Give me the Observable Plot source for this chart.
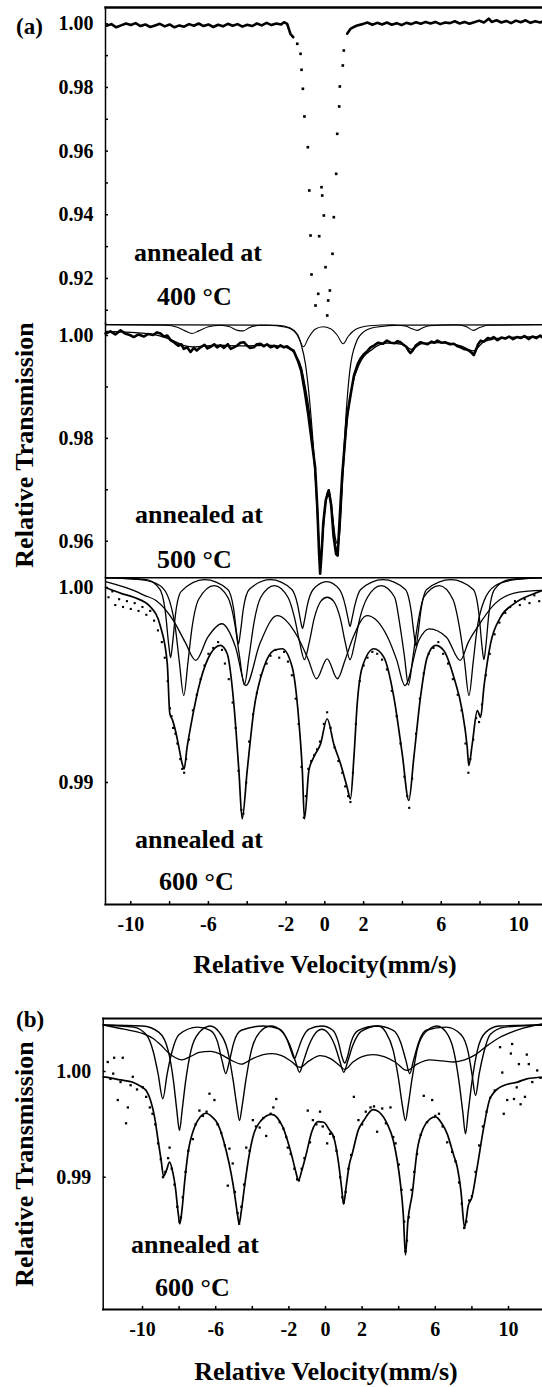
<!DOCTYPE html>
<html><head><meta charset="utf-8">
<script src="https://cdn.jsdelivr.net/npm/d3@7"></script>
<script src="https://cdn.jsdelivr.net/npm/@observablehq/plot@0.6"></script>
<style>
body{margin:0;background:#fff;}
#wrap{position:relative;width:542px;height:1387px;overflow:hidden;background:#fff;font-family:"Liberation Serif","Times New Roman",serif;font-weight:bold;color:#000;}
.lbl{position:absolute;white-space:nowrap;line-height:1;transform:translateY(-50%);}
.ctr{position:absolute;white-space:nowrap;line-height:1;transform:translate(-50%,-50%);}
.rot{position:absolute;white-space:nowrap;line-height:1;transform:translate(-50%,-50%) rotate(-90deg);}
</style></head><body><div id="wrap"></div>
<script>
// ---------- axis values ----------
const xTicks = [-10,-8,-6,-4,-2,0,2,4,6,8,10];
const xTickLabels = [-10,-6,-2,0,2,6,10];
const yTicks400 = [1.00,0.99,0.98,0.97,0.96,0.95,0.94,0.93,0.92,0.91];
const yLabels400 = [1.00,0.98,0.96,0.94,0.92];
const yTicks500 = [1.00,0.99,0.98,0.97,0.96];
const yLabels500 = [1.00,0.98,0.96];
const yTicks600 = [1.00,0.99];
const yTicksB = [1.00,0.99];

// ---------- (a) 400 C ----------
const a400Left = [[-11.25,0.9994],[-11.0,0.9999],[-10.75,0.9989],[-10.5,0.9995],[-10.25,1.0001],[-10.0,0.9996],[-9.75,1.0002],[-9.5,0.9993],[-9.25,0.9998],[-9.0,0.9990],[-8.75,0.9995],[-8.5,1.0000],[-8.25,0.9992],[-8.0,0.9998],[-7.75,0.9989],[-7.5,0.9995],[-7.25,0.9991],[-7.0,0.9999],[-6.75,0.9994],[-6.5,1.0001],[-6.25,0.9993],[-6.0,0.9998],[-5.75,0.9990],[-5.5,0.9997],[-5.25,0.9992],[-5.0,1.0000],[-4.75,0.9994],[-4.5,0.9999],[-4.25,0.9991],[-4.0,0.9997],[-3.75,0.9993],[-3.5,1.0001],[-3.25,0.9995],[-3.0,1.0003],[-2.75,0.9996],[-2.5,1.0001],[-2.25,0.9998],[-2.1,1.0005],[-1.94,1.0000],[-1.77,0.9968],[-1.63,0.9958]];
const a400Right = [[1.15,0.9969],[1.32,0.9984],[1.5,0.9990],[1.67,0.9995],[1.95,0.9999],[2.19,1.0004],[2.45,0.9997],[2.7,1.0003],[2.95,0.9998],[3.2,1.0004],[3.45,0.9997],[3.7,1.0002],[3.95,0.9996],[4.2,1.0003],[4.45,0.9999],[4.7,1.0005],[4.95,1.0000],[5.2,1.0006],[5.45,1.0001],[5.7,1.0006],[5.95,0.9999],[6.2,1.0004],[6.45,1.0002],[6.7,1.0008],[6.95,1.0001],[7.2,1.0006],[7.45,1.0000],[7.7,1.0005],[7.95,1.0010],[8.2,1.0004],[8.45,1.0016],[8.6,1.0006],[8.85,1.0011],[9.1,1.0004],[9.35,1.0009],[9.6,1.0002],[9.85,1.0010],[10.1,1.0005],[10.35,1.0011],[10.6,1.0003],[10.85,1.0008],[11.1,1.0004],[11.22,1.0007]];
const a400Dip = [[-1.42,0.99372],[-1.25,0.99057],[-1.20,0.98555],[-1.13,0.97958],[-1.05,0.97088],[-0.876,0.96123],[-0.80,0.94763],[-0.737,0.93349],[-0.686,0.92124],[-0.48,0.91150],[-0.34,0.91517],[-0.29,0.93327],[-0.17,0.94867],[-0.134,0.94606],[-0.05,0.93977],[0.036,0.92353],[0.124,0.90836],[0.175,0.91307],[0.26,0.91621],[0.397,0.92774],[0.464,0.93924],[0.586,0.95287],[0.64,0.96544],[0.742,0.97402],[0.773,0.98030],[0.928,0.98690],[0.98,0.99161]];

// ---------- (a) 500 C ----------
const a500Data = [[-11.3,1.0004],[-11.05,1.0008],[-10.8,1.0002],[-10.53,1.0010],[-10.3,1.0004],[-10.05,1.0001],[-9.85,0.9997],[-9.6,1.0002],[-9.33,0.9998],[-9.1,1.0003],[-8.85,1.0001],[-8.65,1.0006],[-8.47,1.0004],[-8.3,0.9998],[-8.12,1.0000],[-7.95,0.9991],[-7.78,0.9987],[-7.55,0.9980],[-7.4,0.9983],[-7.27,0.9974],[-7.1,0.9977],[-6.92,0.9968],[-6.75,0.9976],[-6.6,0.9971],[-6.41,0.9977],[-6.2,0.9982],[-6.05,0.9975],[-5.89,0.9978],[-5.7,0.9983],[-5.55,0.9977],[-5.38,0.9981],[-5.2,0.9976],[-5.0,0.9983],[-4.85,0.9974],[-4.69,0.9977],[-4.5,0.9981],[-4.35,0.9986],[-4.17,0.9987],[-4.0,0.9980],[-3.85,0.9976],[-3.66,0.9977],[-3.5,0.9983],[-3.31,0.9984],[-3.15,0.9979],[-2.98,0.9983],[-2.8,0.9977],[-2.6,0.9980],[-2.45,0.9976],[-2.28,0.9981],[-2.1,0.9977],[-1.95,0.9979],[-1.77,0.9974],[-1.6,0.9970],[-1.39,0.9951],[-1.22,0.9932],[-1.04,0.9893],[-0.86,0.9848],[-0.68,0.9796],[-0.5,0.9744],[-0.38,0.9660],[-0.3,0.9580],[-0.24,0.9537],[-0.16,0.9580],[-0.08,0.9635],[0.05,0.9680],[0.2,0.9699],[0.33,0.9670],[0.45,0.9610],[0.58,0.9575],[0.66,0.9572],[0.74,0.9625],[0.82,0.9680],[0.9,0.9730],[0.98,0.9767],[1.07,0.9810],[1.15,0.9844],[1.32,0.9883],[1.5,0.9922],[1.7,0.9945],[1.84,0.9955],[2.0,0.9963],[2.2,0.9970],[2.36,0.9977],[2.55,0.9981],[2.75,0.9986],[3.0,0.9984],[3.2,0.9990],[3.4,0.9986],[3.6,0.9985],[3.75,0.9989],[3.9,0.9987],[4.05,0.9982],[4.2,0.9978],[4.32,0.9970],[4.42,0.9966],[4.55,0.9972],[4.7,0.9981],[4.93,0.9987],[5.1,0.9985],[5.3,0.9983],[5.5,0.9988],[5.65,0.9986],[5.8,0.9990],[6.0,0.9986],[6.2,0.9987],[6.45,0.9983],[6.65,0.9984],[6.85,0.9979],[7.0,0.9977],[7.16,0.9974],[7.3,0.9973],[7.45,0.9970],[7.58,0.9966],[7.68,0.9962],[7.78,0.9971],[7.9,0.9983],[8.03,0.9990],[8.2,0.9988],[8.4,0.9995],[8.55,0.9993],[8.7,0.9997],[8.9,0.9991],[9.1,0.9996],[9.3,0.9994],[9.5,0.9998],[9.7,0.9993],[9.9,0.9997],[10.1,0.9995],[10.3,0.9999],[10.5,0.9993],[10.7,0.9998],[10.9,0.9995],[11.1,1.0000],[11.22,0.9996]];
const a500Fit = [[-11.3,1.0008],[-9,1.0003],[-8,0.9993],[-7.2,0.9980],[-6.8,0.9978],[-5.5,0.9981],[-4.3,0.9980],[-3,0.9981],[-2,0.9977],[-1.5,0.9962],[-1.2,0.9936],[-1.0,0.9898],[-0.8,0.9852],[-0.6,0.9778],[-0.45,0.9700],[-0.33,0.9610],[-0.24,0.9555],[-0.14,0.9592],[0.0,0.9660],[0.2,0.9695],[0.4,0.9642],[0.55,0.9592],[0.65,0.9580],[0.78,0.9622],[0.95,0.9740],[1.15,0.9835],[1.4,0.9900],[1.8,0.9946],[2.4,0.9972],[3.2,0.9985],[4.0,0.9983],[4.45,0.9973],[5.0,0.9984],[6.0,0.9986],[7.0,0.9980],[7.65,0.9970],[8.2,0.9988],[9,0.9995],[10,0.9997],[11.22,0.9998]];
const a500CompD = [[-11.3,1.0021],[-3,1.0020],[-2,1.0016],[-1.5,1.0005],[-1.2,0.9980],[-1.0,0.9945],[-0.8,0.9880],[-0.6,0.9790],[-0.45,0.9710],[-0.33,0.9620],[-0.24,0.9570],[-0.14,0.9600],[0.0,0.9665],[0.2,0.9700],[0.4,0.9650],[0.55,0.9605],[0.65,0.9595],[0.78,0.9640],[0.95,0.9755],[1.1,0.9850],[1.3,0.9935],[1.6,0.9985],[2.0,1.0007],[2.6,1.0016],[4,1.0020],[11.22,1.0021]];
const a500CompS = [[-11.3,1.0021],[-8.2,1.0020],[-7.6,1.0016],[-7.2,1.0009],[-6.85,1.0004],[-6.5,1.0009],[-6.0,1.0017],[-5.4,1.0020],[-4.9,1.0017],[-4.5,1.0010],[-4.2,1.0009],[-3.9,1.0015],[-3.3,1.0020],[-2.4,1.0020],[-1.8,1.0015],[-1.4,1.0002],[-1.1,0.9978],[-0.85,0.9995],[-0.5,1.0012],[-0.1,1.0017],[0.3,1.0013],[0.65,1.0000],[0.95,0.9984],[1.2,0.9998],[1.6,1.0012],[2.3,1.0019],[3.5,1.0021],[4.2,1.0018],[4.5,1.0013],[4.76,1.0010],[5.0,1.0014],[5.4,1.0019],[6.8,1.0021],[7.3,1.0017],[7.65,1.0010],[7.95,1.0015],[8.4,1.0020],[11.22,1.0021]];

// ---------- (a) 600 C ----------
const a600Data = [[-11.15,0.9995],[-10.95,0.9998],[-10.8,0.9991],[-10.6,0.9994],[-10.4,0.9990],[-10.2,0.9993],[-10.0,0.9989],[-9.8,0.9992],[-9.6,0.9988],[-9.4,0.9990],[-9.2,0.9986],[-9.0,0.9988],[-8.8,0.9983],[-8.6,0.9978],[-8.4,0.9972],[-8.25,0.9964],[-8.1,0.9952],[-7.98,0.9938],[-7.9,0.9934],[-7.82,0.9928],[-7.7,0.9925],[-7.6,0.9920],[-7.45,0.9912],[-7.35,0.9907],[-7.25,0.9905],[-7.15,0.9912],[-7.0,0.9922],[-6.8,0.9937],[-6.6,0.9945],[-6.4,0.9953],[-6.2,0.9960],[-6.0,0.9966],[-5.75,0.9969],[-5.5,0.9972],[-5.3,0.9968],[-5.15,0.9961],[-4.95,0.9953],[-4.75,0.9941],[-4.6,0.9928],[-4.45,0.9906],[-4.3,0.9886],[-4.2,0.9884],[-4.05,0.9900],[-3.9,0.9921],[-3.7,0.9935],[-3.5,0.9946],[-3.3,0.9955],[-3.0,0.9961],[-2.8,0.9965],[-2.55,0.9968],[-2.35,0.9964],[-2.1,0.9967],[-1.9,0.9962],[-1.7,0.9955],[-1.5,0.9943],[-1.35,0.9930],[-1.2,0.9908],[-1.08,0.9882],[-0.98,0.9893],[-0.85,0.9907],[-0.7,0.9911],[-0.55,0.9914],[-0.4,0.9917],[-0.25,0.9921],[-0.05,0.9930],[0.12,0.9936],[0.3,0.9928],[0.5,0.9918],[0.7,0.9911],[0.9,0.9905],[1.05,0.9898],[1.2,0.9893],[1.32,0.9890],[1.45,0.9905],[1.6,0.9930],[1.8,0.9952],[2.0,0.9960],[2.2,0.9964],[2.45,0.9967],[2.7,0.9966],[2.95,0.9963],[3.2,0.9958],[3.45,0.9947],[3.7,0.9934],[3.9,0.9920],[4.1,0.9903],[4.25,0.9893],[4.35,0.9887],[4.5,0.9902],[4.7,0.9925],[4.9,0.9943],[5.1,0.9956],[5.35,0.9966],[5.6,0.9969],[5.85,0.9972],[6.1,0.9966],[6.35,0.9961],[6.6,0.9953],[6.85,0.9945],[7.05,0.9937],[7.25,0.9920],[7.4,0.9905],[7.5,0.9912],[7.65,0.9922],[7.8,0.9933],[7.95,0.9931],[8.1,0.9940],[8.3,0.9955],[8.5,0.9966],[8.75,0.9976],[9.0,0.9982],[9.3,0.9987],[9.55,0.9990],[9.8,0.9993],[10.05,0.9991],[10.3,0.9994],[10.55,0.9992],[10.8,0.9996],[11.05,0.9993]];
const a600Fit = [[-11.3,1.0000],[-10.5,0.9997],[-9.85,0.9995],[-8.98,0.9990],[-8.47,0.9980],[-8.12,0.9961],[-7.99,0.99354],[-7.85,0.9932],[-7.70,0.99267],[-7.5,0.9917],[-7.35,0.99096],[-7.25,0.9907],[-7.1,0.9918],[-6.92,0.99284],[-6.41,0.99523],[-5.89,0.9966],[-5.38,0.99703],[-5.03,0.9966],[-4.69,0.99404],[-4.43,0.99062],[-4.26,0.98814],[-4.0,0.99062],[-3.66,0.99369],[-3.14,0.99591],[-2.63,0.99677],[-2.2,0.99686],[-1.68,0.99591],[-1.34,0.99318],[-1.16,0.99062],[-1.05,0.98814],[-0.82,0.99062],[-0.57,0.9913],[-0.22,0.99198],[0.12,0.99327],[0.46,0.99198],[0.81,0.99096],[1.15,0.98976],[1.32,0.98916],[1.5,0.9913],[1.67,0.99404],[1.93,0.99591],[2.53,0.99686],[3.04,0.99643],[3.56,0.99437],[3.99,0.99147],[4.33,0.98908],[4.59,0.9913],[4.93,0.99437],[5.28,0.99643],[5.71,0.99703],[6.13,0.99677],[6.65,0.9954],[7.08,0.99369],[7.34,0.99181],[7.42,0.99087],[7.6,0.99198],[7.86,0.99369],[8.03,0.99335],[8.2,0.99489],[8.54,0.99711],[9.06,0.99848],[9.74,0.99916],[10.77,0.99968],[11.22,0.99985]];
const a600CompX = [[-11.3,1.0005],[-9.2,1.0004],[-8.5,0.9999],[-8.2,0.9986],[-8.05,0.9971],[-7.95,0.9964],[-7.85,0.9971],[-7.7,0.9986],[-7.4,0.9998],[-6.2,1.0004],[-5.0,0.9999],[-4.7,0.9989],[-4.55,0.9977],[-4.45,0.9971],[-4.35,0.9977],[-4.2,0.9989],[-3.9,0.9999],[-2.8,1.0004],[-1.7,0.9999],[-1.4,0.9991],[-1.25,0.9983],[-1.15,0.9979],[-1.05,0.9983],[-0.9,0.9991],[-0.6,0.9999],[0.1,1.0003],[0.75,0.9999],[1.05,0.9991],[1.2,0.9984],[1.3,0.9980],[1.4,0.9984],[1.55,0.9991],[1.85,0.9999],[3.0,1.0004],[4.15,0.9999],[4.45,0.9988],[4.6,0.9976],[4.7,0.9970],[4.8,0.9976],[4.95,0.9988],[5.25,0.9999],[6.5,1.0004],[7.65,0.9999],[7.95,0.9986],[8.1,0.9970],[8.2,0.9963],[8.3,0.9970],[8.45,0.9986],[8.75,0.9999],[9.5,1.0004],[11.22,1.0005]];
const a600CompY = [[-11.3,1.0005],[-9.5,1.0004],[-8.5,1.0001],[-8.0,0.9993],[-7.7,0.9979],[-7.5,0.9962],[-7.27,0.99446],[-7.05,0.9962],[-6.85,0.9979],[-6.5,0.9994],[-5.7,1.0001],[-5.0,0.9995],[-4.65,0.9982],[-4.4,0.9965],[-4.15,0.9950],[-3.9,0.9965],[-3.65,0.9982],[-3.3,0.9995],[-2.6,1.0001],[-1.9,0.9995],[-1.55,0.9984],[-1.3,0.9972],[-1.05,0.9963],[-0.8,0.9972],[-0.55,0.9984],[-0.2,0.9993],[0.12,0.9995],[0.45,0.9993],[0.8,0.9984],[1.05,0.9972],[1.3,0.9963],[1.55,0.9972],[1.8,0.9984],[2.2,0.9995],[2.9,1.0001],[3.6,0.9995],[3.85,0.9982],[4.1,0.9965],[4.31,0.9950],[4.55,0.9965],[4.8,0.9982],[5.1,0.9995],[5.9,1.0001],[6.6,0.9994],[6.95,0.9979],[7.2,0.9962],[7.43,0.99446],[7.65,0.9962],[7.85,0.9979],[8.2,0.9993],[8.8,1.0001],[9.8,1.0004],[11.22,1.0005]];
const a600CompZ = [[-11.3,1.0003],[-10.0,0.9999],[-9.3,0.9996],[-8.7,0.99933],[-7.81,0.99831],[-7.2,0.9972],[-6.65,0.99626],[-6.03,0.99745],[-5.31,0.99814],[-4.6,0.99694],[-4.07,0.99497],[-3.35,0.99711],[-2.46,0.99856],[-1.39,0.99745],[-0.85,0.9963],[-0.43,0.99532],[0.12,0.99634],[0.65,0.99532],[1.05,0.9963],[1.46,0.99745],[2.17,0.99856],[3.24,0.99745],[3.7,0.9963],[4.13,0.99497],[4.84,0.99728],[5.38,0.99788],[6.27,0.99745],[6.98,0.99626],[7.4,0.9972],[7.87,0.99797],[8.76,0.99916],[10.0,0.99976],[11.22,0.99985]];
const a600Top = [[-11.3,1.0005],[11.22,1.0005]];

// ---------- (b) 600 C ----------
const bData = [[-11.9,1.0009],[-11.75,0.9993],[-11.6,0.9998],[-11.55,1.0013],[-11.35,0.9973],[-11.2,0.9990],[-11.08,1.0013],[-10.9,0.9951],[-10.8,0.9966],[-10.65,0.9987],[-10.53,0.9995],[-10.3,0.9983],[-9.98,0.9985],[-9.8,0.9976],[-9.6,0.9966],[-9.45,0.9960],[-9.3,0.9950],[-9.15,0.9932],[-9.0,0.9917],[-8.88,0.9900],[-8.75,0.9905],[-8.6,0.9918],[-8.52,0.9928],[-8.4,0.9908],[-8.25,0.9893],[-8.1,0.9872],[-7.98,0.9858],[-7.9,0.9862],[-7.8,0.9881],[-7.65,0.9905],[-7.5,0.9925],[-7.25,0.9936],[-7.1,0.9950],[-6.89,0.9963],[-6.7,0.9958],[-6.5,0.9962],[-6.34,0.9979],[-6.07,0.9973],[-5.9,0.9950],[-5.7,0.9942],[-5.5,0.9930],[-5.34,0.9892],[-5.25,0.9927],[-5.07,0.9913],[-4.95,0.9886],[-4.8,0.9866],[-4.72,0.9856],[-4.6,0.9872],[-4.45,0.9893],[-4.33,0.9928],[-4.15,0.9925],[-3.97,0.9954],[-3.8,0.9948],[-3.6,0.9947],[-3.4,0.9956],[-3.24,0.9939],[-3.0,0.9960],[-2.85,0.9966],[-2.69,0.9974],[-2.5,0.9952],[-2.3,0.9946],[-2.15,0.9938],[-2.06,0.9928],[-1.9,0.9922],[-1.7,0.9908],[-1.55,0.9898],[-1.45,0.9897],[-1.3,0.9908],[-1.15,0.9918],[-0.97,0.9963],[-0.85,0.9933],[-0.69,0.9954],[-0.5,0.9950],[-0.3,0.9962],[-0.15,0.9948],[0.09,0.9932],[0.25,0.9941],[0.45,0.9938],[0.6,0.9925],[0.8,0.9900],[0.92,0.9881],[1.0,0.9876],[1.1,0.9886],[1.25,0.9908],[1.4,0.9921],[1.55,0.9976],[1.8,0.9954],[2.0,0.9950],[2.2,0.9962],[2.46,0.9966],[2.65,0.9967],[2.82,0.9943],[3.1,0.9965],[3.3,0.9951],[3.55,0.9966],[3.7,0.9938],[3.83,0.9932],[4.0,0.9912],[4.15,0.9888],[4.3,0.9858],[4.37,0.9830],[4.45,0.9840],[4.55,0.9862],[4.7,0.9888],[4.85,0.9905],[5.0,0.9922],[5.2,0.9940],[5.37,0.9977],[5.55,0.9952],[5.83,0.9973],[6.0,0.9958],[6.2,0.9960],[6.4,0.9948],[6.65,0.9933],[6.92,0.9924],[7.1,0.9915],[7.3,0.9895],[7.45,0.9875],[7.58,0.9852],[7.7,0.9858],[7.85,0.9878],[8.0,0.9882],[8.2,0.9905],[8.4,0.9930],[8.6,0.9948],[8.8,0.9962],[9.0,0.9975],[9.25,0.9982],[9.54,1.0023],[9.66,0.9999],[9.74,0.9960],[9.93,0.9973],[10.13,1.0017],[10.2,1.0026],[10.3,0.9974],[10.45,0.9985],[10.57,1.0007],[10.66,0.9969],[10.9,0.9976],[11.0,1.0016],[11.11,1.0007],[11.3,0.9990],[11.57,1.0001],[11.75,0.9994]];
const bFit = [[-12.15,0.9995],[-11.98,0.99946],[-11.2,0.9992],[-10.53,0.99899],[-10.1,0.9986],[-9.8,0.9982],[-9.55,0.9972],[-9.34,0.99568],[-9.15,0.9935],[-8.98,0.99158],[-8.85,0.9901],[-8.7,0.9906],[-8.52,0.99142],[-8.35,0.9905],[-8.2,0.9890],[-8.05,0.9866],[-7.96,0.98559],[-7.85,0.9868],[-7.7,0.9895],[-7.52,0.99221],[-7.16,0.99473],[-6.85,0.9957],[-6.52,0.99605],[-6.2,0.9957],[-5.89,0.99505],[-5.43,0.99253],[-5.15,0.9903],[-4.97,0.98843],[-4.82,0.9866],[-4.72,0.98559],[-4.6,0.9868],[-4.43,0.98905],[-4.2,0.9918],[-3.97,0.99378],[-3.5,0.9954],[-2.95,0.99595],[-2.33,0.99473],[-1.87,0.99221],[-1.62,0.9905],[-1.48,0.98969],[-1.3,0.9906],[-1.05,0.99221],[-0.75,0.9943],[-0.4,0.99525],[-0.1,0.9952],[0.2,0.9945],[0.45,0.99378],[0.7,0.9915],[0.88,0.9890],[0.99,0.98745],[1.12,0.9890],[1.3,0.9912],[1.46,0.99221],[1.8,0.9945],[2.09,0.99536],[2.6,0.9964],[2.9,0.9962],[3.37,0.99505],[3.7,0.9935],[3.92,0.99158],[4.1,0.9893],[4.25,0.9865],[4.37,0.98265],[4.5,0.9858],[4.74,0.98843],[5.01,0.99253],[5.37,0.99473],[5.7,0.9955],[6.01,0.9957],[6.35,0.9951],[6.65,0.9941],[7.0,0.9921],[7.2,0.99095],[7.4,0.9887],[7.6,0.98524],[7.8,0.9873],[8.0,0.98811],[8.29,0.99095],[8.65,0.99473],[9.02,0.99757],[9.74,0.99868],[10.5,0.9990],[11.0,0.99931],[11.86,0.99946]];
const bCompP1 = [[-12.15,1.0044],[-10.5,1.0042],[-9.8,1.0035],[-9.4,1.0018],[-9.15,0.9998],[-8.89,0.99742],[-8.65,0.9998],[-8.4,1.0018],[-8.0,1.0035],[-7.0,1.0042],[-6.3,1.0039],[-5.9,1.0028],[-5.65,1.0010],[-5.45,0.9998],[-5.25,1.0010],[-5.0,1.0028],[-4.6,1.0039],[-3.4,1.0043],[-2.5,1.0040],[-2.1,1.0030],[-1.85,1.0018],[-1.7,1.0012],[-1.55,1.0018],[-1.3,1.0030],[-0.9,1.0040],[-0.2,1.0043],[0.4,1.0039],[0.7,1.0028],[0.9,1.0014],[1.05,1.0008],[1.2,1.0014],[1.4,1.0028],[1.8,1.0039],[2.8,1.0043],[3.7,1.0039],[4.1,1.0028],[4.4,1.0010],[4.6,0.9998],[4.8,1.0010],[5.1,1.0028],[5.5,1.0039],[6.6,1.0042],[7.4,1.0035],[7.8,1.0018],[8.0,0.9998],[8.2,0.99773],[8.4,0.9998],[8.65,1.0018],[9.0,1.0035],[9.8,1.0042],[11.86,1.0044]];
const bCompP2 = [[-12.15,1.0044],[-10,1.0043],[-9.1,1.0037],[-8.6,1.0020],[-8.3,0.9990],[-8.13,0.9964],[-7.98,0.99442],[-7.83,0.9964],[-7.65,0.9990],[-7.35,1.0020],[-6.9,1.0037],[-6.3,1.0043],[-5.8,1.0037],[-5.35,1.0020],[-5.05,0.9992],[-4.85,0.9968],[-4.7,0.99536],[-4.55,0.9968],[-4.35,0.9992],[-4.05,1.0020],[-3.6,1.0037],[-3.0,1.0043],[-2.4,1.0038],[-1.95,1.0025],[-1.65,1.0010],[-1.42,0.99993],[-1.2,1.0010],[-0.9,1.0025],[-0.45,1.0038],[-0.2,1.0040],[0.05,1.0038],[0.5,1.0025],[0.78,1.0010],[1.0,0.99993],[1.22,1.0010],[1.5,1.0025],[1.95,1.0038],[2.9,1.0043],[3.3,1.0037],[3.7,1.0020],[4.0,0.9992],[4.2,0.9968],[4.37,0.99536],[4.52,0.9968],[4.72,0.9992],[5.0,1.0020],[5.45,1.0037],[6.1,1.0043],[6.6,1.0037],[7.0,1.0020],[7.3,0.9990],[7.5,0.9962],[7.65,0.9941],[7.8,0.9962],[8.0,0.9990],[8.3,1.0020],[8.75,1.0037],[9.5,1.0043],[11.86,1.0044]];
const bCompW = [[-12.15,1.0044],[-11,1.0040],[-10,1.0036],[-9.4,1.0031],[-9.0,1.0025],[-8.6,1.0018],[-8.2,1.0013],[-7.85,1.0011],[-7.4,1.0014],[-6.9,1.0018],[-6.3,1.0019],[-5.7,1.0016],[-5.2,1.0011],[-4.6,1.0007],[-4.0,1.0012],[-3.4,1.0016],[-2.9,1.0017],[-2.4,1.0015],[-1.9,1.0010],[-1.4,1.0004],[-0.9,1.0010],[-0.3,1.0015],[0.3,1.0012],[0.75,1.0006],[1.05,1.0002],[1.5,1.0009],[2.0,1.0014],[2.6,1.0016],[3.2,1.0014],[3.8,1.0009],[4.45,1.0001],[5.0,1.0007],[5.7,1.0011],[6.4,1.0010],[7.0,1.0009],[7.6,1.0011],[8.2,1.0016],[8.8,1.0024],[9.4,1.0031],[10.0,1.0036],[10.8,1.0041],[11.86,1.0045]];

// ---------- drawing ----------
const wrap = document.getElementById("wrap");
const STYLE = {fontFamily: "'Liberation Serif','Times New Roman',serif", fontSize: "20px", fontWeight: "bold", background: "transparent", overflow: "visible", color: "#000"};
const X = d => d[0], Y = d => d[1];
const fmt2 = d3.format(".2f");
const fmtX = d => String(d);
const xDomA = [-11.304, 11.22];
const xDomB = [-12.148, 11.858];

const smooth = (data, w) => Plot.line(data, {x: X, y: Y, stroke: "#000", strokeWidth: w, curve: "monotone-x"});
const jagged = (data, w) => Plot.line(data, {x: X, y: Y, stroke: "#000", strokeWidth: w, strokeLinejoin: "round"});
const dots = (data, r) => Plot.dot(data, {x: X, y: Y, r, fill: "#000", stroke: null, symbol: "square"});
const yTickMarks = t => Plot.axisY({ticks: t, tickSize: -3, tickFormat: () => "", label: null, strokeWidth: 1.5});
const yTickText = t => Plot.axisY({ticks: t, tickSize: 0, tickPadding: 12, tickFormat: fmt2, label: null});
const xTickMarks = t => Plot.axisX({ticks: t, tickSize: -3, tickFormat: () => "", label: null, strokeWidth: 1.5});
const xTickText = t => Plot.axisX({ticks: t, tickSize: 0, tickPadding: 12, tickFormat: fmtX, label: null});

function place(svg, top) {
  svg.style.position = "absolute"; svg.style.left = "0px"; svg.style.top = top + "px";
  wrap.appendChild(svg);
}

// (a) 400
place(Plot.plot({
  width: 542, height: 323, marginTop: 7, marginBottom: 0, marginLeft: 105, marginRight: 0,
  x: {domain: xDomA, axis: null}, y: {domain: [0.905843, 1.005121]}, style: STYLE,
  marks: [
    Plot.frame({anchor: "top", strokeWidth: 2.4}),
    Plot.frame({anchor: "left", strokeWidth: 1.5}),
    yTickMarks(yTicks400), yTickText(yLabels400),
    jagged(a400Left, 2.6), jagged(a400Right, 2.6),
    dots(a400Dip, 1.5)
  ]
}), 0);

// (a) 500
place(Plot.plot({
  width: 542, height: 254, marginTop: 0, marginBottom: 0, marginLeft: 105, marginRight: 0,
  x: {domain: xDomA, axis: null}, y: {domain: [0.952946, 1.002333]}, style: STYLE,
  marks: [
    Plot.frame({anchor: "left", strokeWidth: 1.5}),
    yTickMarks(yTicks500), yTickText(yLabels500),
    smooth(a500CompS, 1.1), smooth(a500CompD, 1.2), smooth(a500Fit, 1.3),
    jagged(a500Data, 2.6)
  ]
}), 323);

// (a) 600
place(Plot.plot({
  width: 542, height: 423, marginTop: 0, marginBottom: 96, marginLeft: 105, marginRight: 0,
  x: {domain: xDomA}, y: {domain: [0.983744, 1.000513]}, style: STYLE,
  marks: [
    Plot.frame({anchor: "left", strokeWidth: 1.5}),
    Plot.frame({anchor: "bottom", strokeWidth: 2.2}),
    yTickMarks(yTicks600), yTickText(yTicks600),
    xTickMarks(xTicks), xTickText(xTickLabels),
    jagged(a600Top, 1.6),
    smooth(a600CompX, 1.3), smooth(a600CompY, 1.3), smooth(a600CompZ, 1.3),
    smooth(a600Fit, 1.7),
    dots(a600Data, 1.2)
  ]
}), 577);

// (b)
place(Plot.plot({
  width: 542, height: 387, marginTop: 18, marginBottom: 78, marginLeft: 102.7, marginRight: 0,
  x: {domain: xDomB}, y: {domain: [0.977484, 1.005014]}, style: STYLE,
  marks: [
    Plot.frame({anchor: "top", strokeWidth: 2.2}),
    Plot.frame({anchor: "left", strokeWidth: 1.5}),
    Plot.frame({anchor: "bottom", strokeWidth: 2.2}),
    yTickMarks(yTicksB), yTickText(yTicksB),
    xTickMarks(xTicks), xTickText(xTickLabels),
    smooth(bCompW, 1.3), smooth(bCompP1, 1.4), smooth(bCompP2, 1.4),
    smooth(bFit, 1.7),
    dots(bData, 1.3)
  ]
}), 1000);

// ---------- text ----------
function addText(cls, txt, left, top, size) {
  const d = document.createElement("div");
  d.className = cls; d.textContent = txt;
  d.style.left = left + "px"; d.style.top = top + "px"; d.style.fontSize = size + "px";
  wrap.appendChild(d);
}
addText("lbl", "(a)", 16, 26, 23);
addText("lbl", "(b)", 16, 1019, 23);
addText("lbl", "annealed at", 134, 253, 26);
addText("lbl", "400 °C", 157, 297, 26);
addText("lbl", "annealed at", 135, 515, 26);
addText("lbl", "500 °C", 157, 560, 26);
addText("lbl", "annealed at", 135, 840, 26);
addText("lbl", "600 °C", 159, 882, 26);
addText("lbl", "annealed at", 131, 1245, 26);
addText("lbl", "600 °C", 155, 1288, 26);
addText("ctr", "Relative Velocity(mm/s)", 325, 965, 26);
addText("ctr", "Relative Velocity(mm/s)", 326, 1372, 26);
addText("rot", "Relative Transmission", 25, 445, 26);
addText("rot", "Relative Transmission", 25, 1164, 26);
</script>
</body></html>
